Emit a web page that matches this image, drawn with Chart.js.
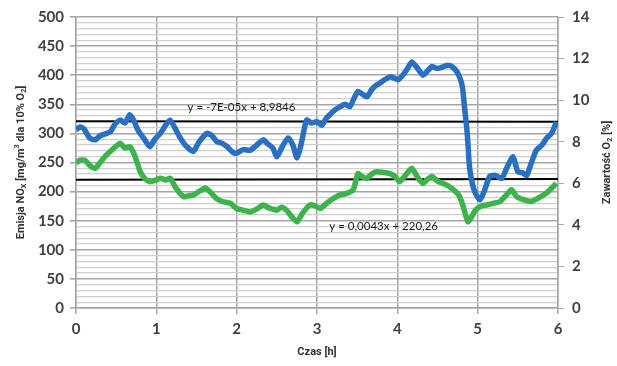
<!DOCTYPE html>
<html>
<head>
<meta charset="utf-8">
<script src="https://cdn.jsdelivr.net/npm/chart.js@4.4.1/dist/chart.umd.min.js"></script>
<style>
  html, body { margin: 0; padding: 0; background: #ffffff; }
  #c { display: block; }
</style>
</head>
<body>
<canvas id="c" width="617" height="366"></canvas>
<script>
// O2 content [%] over time [h] (right axis)
const o2Time = [0.00,0.05,0.10,0.17,0.24,0.30,0.38,0.43,0.48,0.55,0.61,0.67,0.72,0.77,0.85,0.92,0.98,1.05,1.12,1.17,1.23,1.29,1.36,1.46,1.53,1.63,1.70,1.75,1.82,1.88,1.95,2.00,2.08,2.17,2.25,2.33,2.38,2.45,2.50,2.57,2.64,2.70,2.75,2.80,2.87,2.93,3.00,3.06,3.11,3.16,3.22,3.29,3.35,3.41,3.46,3.51,3.56,3.62,3.68,3.73,3.78,3.84,3.91,3.96,4.01,4.08,4.13,4.18,4.25,4.32,4.38,4.43,4.48,4.53,4.58,4.63,4.68,4.74,4.78,4.81,4.84,4.87,4.90,4.94,4.98,5.03,5.08,5.15,5.22,5.30,5.36,5.44,5.50,5.56,5.61,5.67,5.73,5.80,5.86,5.92,5.98];
const o2Values = [8.57,8.71,8.62,8.18,8.09,8.29,8.40,8.48,8.82,9.04,8.90,9.30,9.02,8.57,8.12,7.76,8.12,8.40,8.82,9.04,8.68,8.23,7.84,7.53,7.98,8.40,8.26,8.01,7.92,7.76,7.50,7.45,7.62,7.59,7.84,8.09,7.92,7.70,7.28,7.78,8.18,7.84,7.22,7.84,9.04,8.90,8.96,8.79,9.10,9.30,9.52,9.69,9.80,9.69,10.08,10.42,10.30,10.16,10.50,10.70,10.81,10.98,11.12,11.06,10.98,11.26,11.54,11.84,11.54,11.20,11.42,11.62,11.54,11.54,11.62,11.68,11.62,11.37,11.06,10.64,9.52,8.40,6.72,5.88,5.46,5.21,5.60,6.33,6.38,6.24,6.72,7.28,6.55,6.50,6.38,7.00,7.59,7.84,8.18,8.40,8.96];

// NOx emission [mg/m3 at 10% O2] over time [h] (left axis)
const noxTime = [0.00,0.05,0.11,0.17,0.24,0.30,0.38,0.45,0.50,0.55,0.61,0.67,0.73,0.80,0.86,0.92,1.00,1.05,1.12,1.17,1.25,1.34,1.40,1.46,1.53,1.61,1.68,1.75,1.82,1.92,2.00,2.08,2.17,2.25,2.33,2.40,2.45,2.50,2.56,2.62,2.68,2.75,2.82,2.91,2.97,3.04,3.12,3.20,3.28,3.37,3.45,3.51,3.56,3.62,3.68,3.74,3.82,3.91,3.97,4.03,4.10,4.18,4.25,4.32,4.38,4.43,4.50,4.57,4.63,4.70,4.76,4.80,4.84,4.88,4.93,4.97,5.04,5.11,5.20,5.28,5.35,5.42,5.48,5.53,5.60,5.67,5.74,5.82,5.90,5.98];
const noxValues = [249,254,254,245,240,250,263,272,278,283,275,277,262,234,222,217,220,223,220,223,205,191,193,194,200,206,198,188,183,180,171,168,165,170,177,172,170,168,173,168,158,148,163,177,176,171,180,188,194,197,203,231,226,223,230,234,233,231,226,217,228,240,225,214,222,226,218,214,210,203,195,183,165,148,158,168,175,177,180,183,193,203,192,188,185,183,188,194,203,214];

// Linear trend fits (x = sample number, one sample per minute)
const noxTrend = { slope: 0.0043, intercept: 220.26, label: 'y = 0,0043x + 220,26' };
const o2Trend = { slope: -7e-05, intercept: 8.9846, label: 'y = -7E-05x + 8,9846' };
const sampleCount = 360;

// Axis ranges and tick labels
const timeTicks = [0, 1, 2, 3, 4, 5, 6];
const noxTicks = [0, 50, 100, 150, 200, 250, 300, 350, 400, 450, 500];
const o2Ticks = [0, 2, 4, 6, 8, 10, 12, 14];

const pts = (xs, ys) => xs.map((x, i) => ({ x: x, y: ys[i] }));
const trendPts = (tr) => [
  { x: timeTicks[0], y: tr.intercept },
  { x: timeTicks[timeTicks.length - 1], y: tr.intercept + tr.slope * sampleCount }
];

const BLUE = '#2a70c2';
const GREEN = '#3cb44b';
const TXT = '#404040';
const FONT = 'Lato, "Open Sans", "DejaVu Sans", sans-serif';
const TITLE_FONT = 'Roboto, "Liberation Sans", sans-serif';

// draws a run of text with sub/superscripts, centred at (x, y), rotated by rot
function richText(ctx, parts, x, y, rot, size) {
  ctx.save();
  ctx.translate(x, y);
  ctx.rotate(rot);
  let total = 0;
  const widths = parts.map(p => {
    const s = p.sub || p.sup ? size * 0.65 : size;
    ctx.font = 'bold ' + s + 'px ' + TITLE_FONT;
    const w = ctx.measureText(p.t).width;
    total += w;
    return w;
  });
  let cx = -total / 2;
  ctx.fillStyle = '#333333';
  ctx.textBaseline = 'middle';
  ctx.textAlign = 'left';
  parts.forEach((p, i) => {
    const s = p.sub || p.sup ? size * 0.65 : size;
    ctx.font = 'bold ' + s + 'px ' + TITLE_FONT;
    const dy = p.sub ? size * 0.3 : (p.sup ? -size * 0.3 : 0);
    ctx.fillText(p.t, cx, dy);
    cx += widths[i];
  });
  ctx.restore();
}

const titlesPlugin = {
  id: 'titles',
  afterDraw(chart) {
    const ctx = chart.ctx;
    const a = chart.chartArea;
    const midY = (a.top + a.bottom) / 2;
    richText(ctx, [
      { t: 'Emisja NO' }, { t: 'X', sub: true }, { t: ' [mg/m' }, { t: '3', sup: true },
      { t: ' dla 10% O' }, { t: '2', sub: true }, { t: ']' }
    ], 21, midY, -Math.PI / 2, 11);
    richText(ctx, [
      { t: 'Zawartość O' }, { t: '2', sub: true }, { t: ' [%]' }
    ], 607, midY, -Math.PI / 2, 11);
    richText(ctx, [{ t: 'Czas [h]' }], (a.left + a.right) / 2, 352, 0, 11);

    // trend equations
    const xs = chart.scales.x, yl = chart.scales.y, yr = chart.scales.y1;
    ctx.save();
    ctx.font = '11.5px ' + FONT;
    ctx.fillStyle = '#222222';
    ctx.textAlign = 'center';
    ctx.textBaseline = 'middle';
    ctx.fillText(o2Trend.label, xs.getPixelForValue(2.06), yr.getPixelForValue(o2Trend.intercept) - 14);
    ctx.fillText(noxTrend.label, xs.getPixelForValue(3.83), yl.getPixelForValue(noxTrend.intercept) + 46);
    ctx.restore();
  }
};

new Chart(document.getElementById('c'), {
  type: 'line',
  data: {
    datasets: [
      {
        label: 'O2',
        data: pts(o2Time, o2Values),
        yAxisID: 'y1',
        borderColor: BLUE,
        borderWidth: 5.5,
        pointRadius: 0,
        tension: 0.2,
        order: 0
      },
      {
        label: 'NOx',
        data: pts(noxTime, noxValues),
        yAxisID: 'y',
        borderColor: GREEN,
        borderWidth: 5.5,
        pointRadius: 0,
        tension: 0.2,
        order: 1
      },
      {
        label: 'trend O2',
        data: trendPts(o2Trend),
        yAxisID: 'y1',
        borderColor: '#000000',
        borderWidth: 2,
        pointRadius: 0,
        order: 2
      },
      {
        label: 'trend NOx',
        data: trendPts(noxTrend),
        yAxisID: 'y',
        borderColor: '#000000',
        borderWidth: 2,
        pointRadius: 0,
        order: 2
      }
    ]
  },
  options: {
    responsive: false,
    animation: false,
    devicePixelRatio: 1,
    layout: { autoPadding: false, padding: { top: 17, left: 0, right: 0, bottom: 0 } },
    plugins: { legend: { display: false }, tooltip: { enabled: false } },
    scales: {
      x: {
        type: 'linear',
        min: timeTicks[0],
        max: timeTicks[timeTicks.length - 1],
        afterBuildTicks: s => { s.ticks = timeTicks.map(v => ({ value: v })); },
        afterFit: s => { s.height = 58; },
        ticks: { color: TXT, font: { family: FONT, size: 15, weight: 'bold' }, padding: 6, maxRotation: 0, autoSkip: false },
        grid: { color: '#a6a6a6', lineWidth: 1.5, tickLength: 6, tickColor: '#a6a6a6' },
        border: { color: '#a6a6a6', width: 1.5 }
      },
      y: {
        position: 'left',
        min: noxTicks[0],
        max: noxTicks[noxTicks.length - 1],
        afterBuildTicks: s => {
          const t = [];
          for (let v = noxTicks[0]; v <= noxTicks[noxTicks.length - 1]; v += 10) t.push({ value: v });
          s.ticks = t;
        },
        afterFit: s => { s.width = 76; },
        ticks: {
          color: TXT,
          font: { family: FONT, size: 15, weight: 'bold' },
          padding: 6,
          autoSkip: false,
          callback: v => (noxTicks.includes(v) ? String(v) : '')
        },
        grid: {
          color: c => (noxTicks.includes(c.tick.value) ? '#a6a6a6' : '#cfcfcf'),
          lineWidth: c => (noxTicks.includes(c.tick.value) ? 1.6 : 1.3),
          tickLength: 6,
          tickColor: c => (noxTicks.includes(c.tick.value) ? '#a6a6a6' : 'rgba(0,0,0,0)')
        },
        border: { color: '#a6a6a6', width: 1.5 }
      },
      y1: {
        position: 'right',
        min: o2Ticks[0],
        max: o2Ticks[o2Ticks.length - 1],
        afterBuildTicks: s => { s.ticks = o2Ticks.map(v => ({ value: v })); },
        afterFit: s => { s.width = 59; },
        ticks: { color: TXT, font: { family: FONT, size: 15, weight: 'bold' }, padding: 8, autoSkip: false },
        grid: { drawOnChartArea: false, tickLength: 6, tickColor: '#a6a6a6' },
        border: { color: '#a6a6a6', width: 1.5 }
      }
    }
  },
  plugins: [titlesPlugin]
});
</script>
</body>
</html>
